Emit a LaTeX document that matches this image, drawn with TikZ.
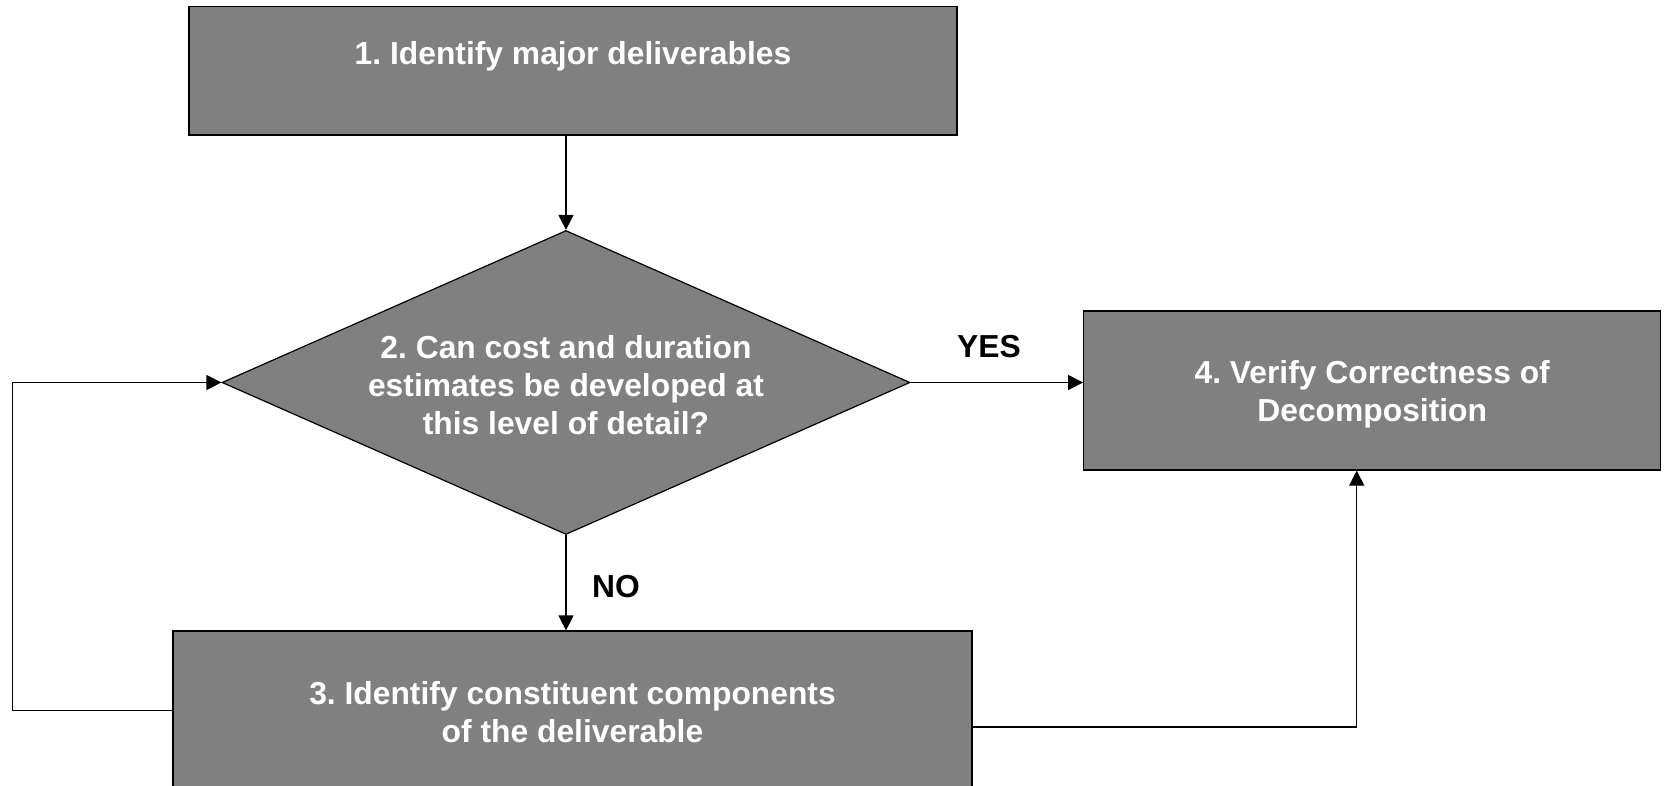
\documentclass[tikz,border=0pt]{standalone}
\usepackage{fontspec}
\setmainfont{Liberation Sans}
\usetikzlibrary{shapes.geometric,arrows.meta}
\definecolor{grigio}{RGB}{128,128,128}
\frenchspacing

\begin{document}
\begin{tikzpicture}[x=0.5pt,y=-0.5pt,
    scatola/.style={draw=black,line width=0.6pt,fill=grigio,inner sep=0pt},
    testo/.style={text=white,font=\fontsize{15.9}{18.9}\selectfont\bfseries,align=center},
    risposta/.style={text=black,font=\fontsize{15.9}{18.9}\selectfont\bfseries},
    freccia/.style={line width=0.6pt,-{Triangle[length=7.5pt,width=7.5pt]}}]
        % --- cornice ------------------------------------------------------
        \useasboundingbox (0,0) rectangle (1666,786);
        % --- passi --------------------------------------------------------
        \node[scatola,minimum width=384pt,minimum height=64.3pt] (passo1) at (573,70.7) {};
        \node[testo] (testo1) at (573,56) {1. Identify major deliverables};
        \node[scatola,shape=diamond,aspect=2.26,minimum width=344pt,minimum height=152pt]
            (passo2) at (566,382.5) {};
        \node[testo] (testo2) at (566,385)
            {2. Can cost and duration\\estimates be developed at\\this level of detail?};
        \node[scatola,testo,minimum width=399.5pt,minimum height=81pt] (passo3) at (572.5,712)
            {3. Identify constituent components\\of the deliverable};
        \node[scatola,minimum width=288.5pt,minimum height=79.5pt] (passo4) at (1372.2,390.5) {};
        \node[testo] (testo4) at (1372.2,394)
            {4. Verify Correctness of\\Decomposition};
        % --- frecce -------------------------------------------------------
        \coordinate (ritorno) at (12.7,710.7);
        \coordinate (salita) at (1356.7,727);
        \draw[freccia] (passo1.south -| passo2.north) -- (passo2.north);
        \draw[freccia] (passo2.east) -- (passo2.east -| passo4.west);
        \draw[freccia] (passo2.south) -- (passo2.south |- passo3.north);
        \draw[freccia] (ritorno -| passo3.west) -- (ritorno) |- (passo2.west);
        \draw[freccia] (salita -| passo3.east) -- (salita) -- (salita |- passo4.south);
        % --- risposte -----------------------------------------------------
        \node[risposta] (si) at (989,347) {YES};
        \node[risposta] (no) at (616,586.5) {NO};
    \end{tikzpicture}
\end{document}
